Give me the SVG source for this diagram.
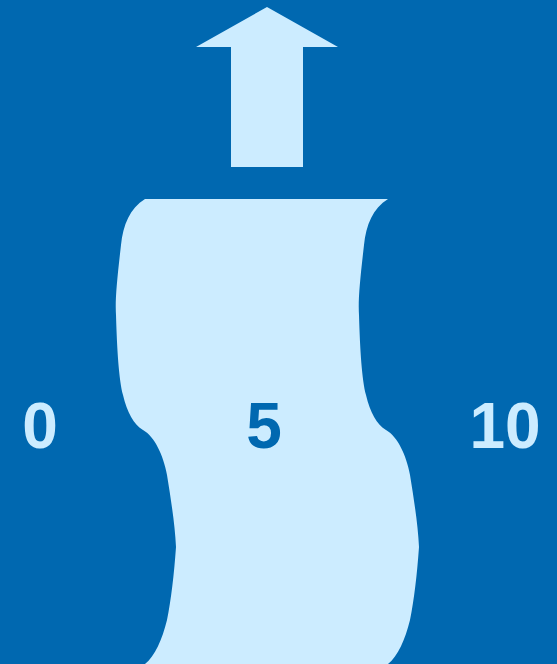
<svg xmlns="http://www.w3.org/2000/svg" width="557" height="664" viewBox="0 0 557 664">
<style>
.lbl{font-family:"Liberation Sans",Arial,sans-serif;font-weight:bold;font-size:64px;text-anchor:middle}
.light{fill:#CCECFF}
.dark{fill:#0068B0}
</style>
<rect width="557" height="664" fill="#0068B0"/>
<g id="arrow">
<polygon class="light" points="267,7 338,47 303,47 303,167 231,167 231,47 196,47"/>
</g>
<g id="tape">
<path class="light" d="M145,199 C130,208 123,225 121,245 C117,280 115,300 116,315 C117,350 119,380 123,395 C127,412 134,425 143,430 C155,437 163,455 167,475 C171,500 175,525 176,547 C174,575 171,600 167,620 C162,640 155,656 145,664 L388,664 C398,656 405,640 410,620 C414,600 417,575 419,547 C418,525 414,500 410,475 C406,455 398,437 386,430 C377,425 370,412 366,395 C362,380 360,350 359,315 C358,300 360,280 364,245 C366,225 373,208 388,199 Z"/>
</g>
<g id="labels">
<text class="lbl light" x="40" y="448">0</text>
<text class="lbl dark" x="264" y="448">5</text>
<text class="lbl light" x="505" y="448">10</text>
</g>
</svg>
